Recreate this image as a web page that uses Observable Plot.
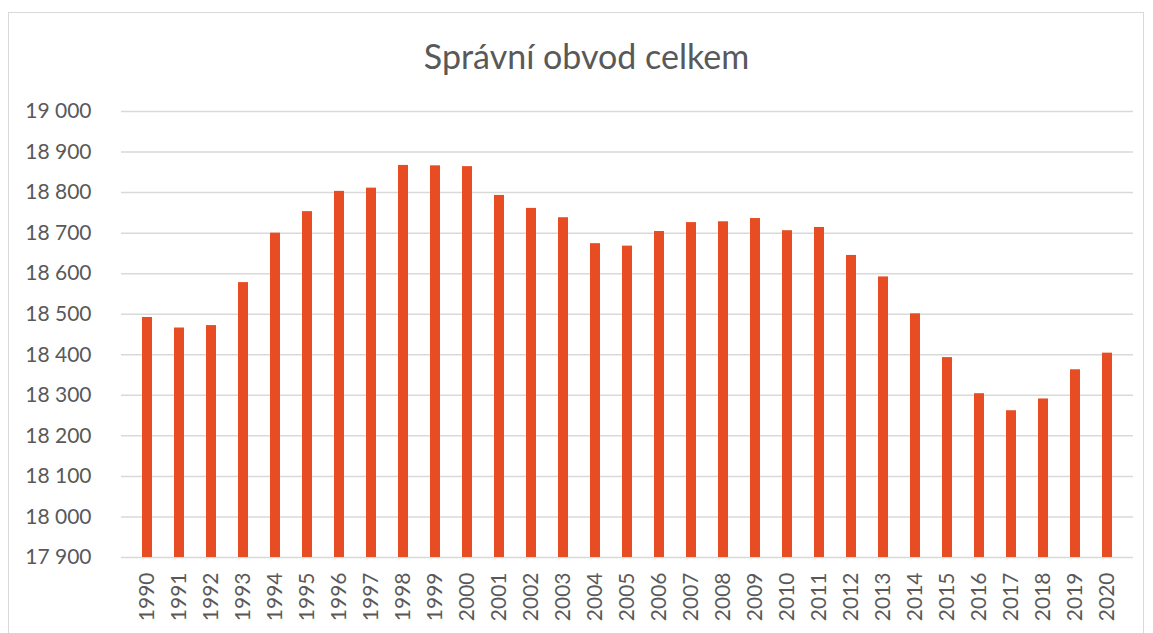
<!DOCTYPE html>
<html>
<head>
<meta charset="utf-8">
<script src="https://cdn.jsdelivr.net/npm/d3@7"></script>
<script src="https://cdn.jsdelivr.net/npm/@observablehq/plot@0.6"></script>
<style>
  html, body { margin: 0; padding: 0; background: #fff; }
  #frame { position: absolute; left: 8px; top: 12px; width: 1136px; height: 640px; border: 1.5px solid #d9d9d9; box-sizing: border-box; }
  #chart { position: absolute; left: 0; top: 0; }
</style>
</head>
<body>
<div id="frame"></div>
<div id="chart"></div>
<script>
const title = "Správní obvod celkem";
const years = ["1990","1991","1992","1993","1994","1995","1996","1997","1998","1999","2000","2001","2002","2003","2004","2005","2006","2007","2008","2009","2010","2011","2012","2013","2014","2015","2016","2017","2018","2019","2020"];
const values = [18492,18466,18472,18578,18700,18753,18803,18811,18867,18866,18864,18793,18761,18738,18674,18668,18704,18726,18728,18736,18706,18714,18645,18592,18501,18393,18304,18262,18291,18363,18404];
const yTicks = [17900,18000,18100,18200,18300,18400,18500,18600,18700,18800,18900,19000];

const data = years.map((y, i) => ({year: y, value: values[i]}));
const fmt = d => d3.format(",")(d).replace(/,/g, " ");
const textColor = "#595959";

const plot = Plot.plot({
  width: 1153,
  height: 633,
  marginLeft: 121,
  marginRight: 20,
  marginTop: 111,
  marginBottom: 76,
  style: {fontFamily: "Lato, 'Open Sans', sans-serif", fontSize: "21px", color: textColor, background: "transparent"},
  x: {domain: years, paddingInner: 0.69, paddingOuter: 0.345, label: null},
  y: {domain: [17900, 19000], label: null},
  marks: [
    Plot.ruleY(yTicks, {stroke: "#d9d9d9", strokeWidth: 1.5}),
    Plot.barY(data, {x: "year", y1: yTicks[0], y2: "value", fill: "#E84C22"}),
    Plot.axisY({ticks: yTicks, tickFormat: fmt, tickSize: 0, tickPadding: 30, fill: textColor, fontSize: 21}),
    Plot.axisX({tickRotate: -90, tickSize: 0, tickPadding: 15, fill: textColor, fontSize: 21}),
    Plot.text([title], {frameAnchor: "top", dy: -67, dx: -41, text: d => d, fontSize: 34, fill: textColor})
  ]
});
document.getElementById("chart").appendChild(plot);
</script>
</body>
</html>
